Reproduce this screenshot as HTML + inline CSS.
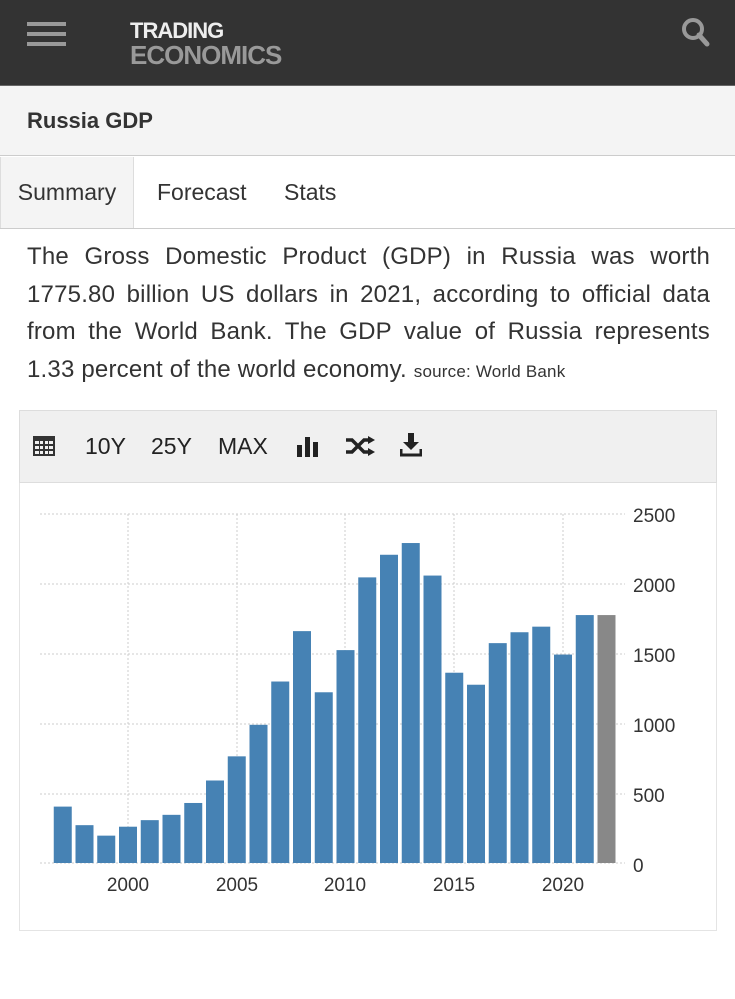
<!DOCTYPE html>
<html><head><meta charset="utf-8"><style>
*{margin:0;padding:0;box-sizing:border-box}
body{width:735px;height:999px;background:#fff;font-family:"Liberation Sans",sans-serif;position:relative;overflow:hidden;color:#333}
.top{position:absolute;left:0;top:0;width:735px;height:85px;background:#333}
.hb{position:absolute;left:27px;width:39px;height:4px;background:#999}
.logo{position:absolute;left:130px;font-weight:bold;letter-spacing:-1px}
.sub{position:absolute;left:0;top:85px;width:735px;height:71px;background:#f4f4f4;border-top:1px solid #666;border-bottom:1px solid #ccc}
.tabs{position:absolute;top:157px;left:0;width:735px;height:72px;border-bottom:1px solid #ccc}
.tab{position:absolute;top:0;height:71px;line-height:71px;font-size:23px;color:#333}
.p{position:absolute;left:27px;top:238px;width:683px;font-size:24px;line-height:37.5px;text-align:justify;color:#333;letter-spacing:0.2px}
.tb{position:absolute;left:19px;top:410px;width:698px;height:73px;background:#f0f0f0;border:1px solid #ddd}
.tbt{position:absolute;top:22px;font-size:23px;color:#222}
.ch{position:absolute;left:19px;top:483px;width:698px;height:448px;border:1px solid #e4e4e4;border-top:none}
</style></head><body>
<div class="top">
<div class="hb" style="top:22px"></div><div class="hb" style="top:32px"></div><div class="hb" style="top:42px"></div>
<div class="logo" style="top:18px;font-size:22px;color:#eee">TRADING</div>
<div class="logo" style="top:40px;font-size:26px;color:#999">ECONOMICS</div>
<svg style="position:absolute;left:680px;top:16px" width="32" height="32"><circle cx="13" cy="13" r="9" fill="none" stroke="#999" stroke-width="4"/><line x1="19" y1="19" x2="27" y2="28" stroke="#999" stroke-width="5" stroke-linecap="round"/></svg>
</div>
<div class="sub"><div style="position:absolute;left:27px;top:22px;font-size:22px;font-weight:bold;color:#333">Russia GDP</div></div>
<div class="tabs">
<div class="tab" style="left:0;width:134px;background:#f4f4f4;border-right:1px solid #ddd;border-left:1px solid #ddd;text-align:center">Summary</div>
<div class="tab" style="left:157px">Forecast</div>
<div class="tab" style="left:284px">Stats</div>
</div>
<div class="p">The Gross Domestic Product (GDP) in Russia was worth 1775.80 billion US dollars in 2021, according to official data from the World Bank. The GDP value of Russia represents 1.33 percent of the world economy. <span style="font-size:17px">source: World Bank</span></div>
<div class="tb">
<svg style="position:absolute;left:13px;top:23px" width="22" height="22"><rect x="0" y="2" width="22" height="20" fill="#333"/><g fill="#f0f0f0"><rect x="2" y="7" width="4" height="3"/><rect x="7" y="7" width="3" height="3"/><rect x="12" y="7" width="3" height="3"/><rect x="16" y="7" width="4" height="3"/><rect x="2" y="12" width="4" height="3"/><rect x="7" y="12" width="3" height="3"/><rect x="12" y="12" width="3" height="3"/><rect x="16" y="12" width="4" height="3"/><rect x="2" y="17" width="4" height="3"/><rect x="7" y="17" width="3" height="3"/><rect x="12" y="17" width="3" height="3"/><rect x="16" y="17" width="4" height="3"/></g></svg>
<div class="tbt" style="left:65px">10Y</div>
<div class="tbt" style="left:131px">25Y</div>
<div class="tbt" style="left:198px">MAX</div>
<svg style="position:absolute;left:277px;top:24px" width="24" height="22"><rect x="0" y="10" width="5" height="12" fill="#222"/><rect x="8" y="2" width="5" height="20" fill="#222"/><rect x="16" y="7" width="5" height="15" fill="#222"/></svg>
<svg style="position:absolute;left:326px;top:25px" width="30" height="20"><g fill="none" stroke="#222" stroke-width="3.5"><path d="M0 4h6l12 12h6"/><path d="M0 16h6l12-12h6"/></g><path d="M22 0l7 4-7 4zM22 12l7 4-7 4z" fill="#222"/></svg>
<svg style="position:absolute;left:380px;top:22px" width="22" height="24"><path d="M8 0h6v9h5l-8 8-8-8h5z" fill="#222"/><path d="M1 16v6h20v-6" fill="none" stroke="#222" stroke-width="3"/></svg>
</div>
<div class="ch"></div>
<svg style="position:absolute;left:0;top:0" width="735" height="999">
<g stroke="#ccc" stroke-dasharray="2,2" stroke-width="1">
<line x1="40" y1="514" x2="625" y2="514"/><line x1="40" y1="584" x2="625" y2="584"/><line x1="40" y1="654" x2="625" y2="654"/><line x1="40" y1="724" x2="625" y2="724"/><line x1="40" y1="794" x2="625" y2="794"/><line x1="40" y1="863" x2="625" y2="863"/>
<line x1="128" y1="514" x2="128" y2="863"/><line x1="237" y1="514" x2="237" y2="863"/><line x1="345" y1="514" x2="345" y2="863"/><line x1="454" y1="514" x2="454" y2="863"/><line x1="563" y1="514" x2="563" y2="863"/>
</g>
<g fill="#4682b4" id="bars"></g>
<g font-family="Liberation Sans" font-size="19" fill="#333">
<text x="633" y="522">2500</text><text x="633" y="592">2000</text><text x="633" y="662">1500</text><text x="633" y="732">1000</text><text x="633" y="802">500</text><text x="633" y="872">0</text>
<g text-anchor="middle"><text x="128" y="891">2000</text><text x="237" y="891">2005</text><text x="345" y="891">2010</text><text x="454" y="891">2015</text><text x="563" y="891">2020</text></g>
</g>
</svg>
<script>
var v=[404,271,196,260,307,345,430,591,764,990,1300,1661,1223,1525,2046,2208,2292,2059,1363,1277,1575,1653,1693,1493,1776,1776];
var g=document.getElementById('bars'),s='';
for(var i=0;i<v.length;i++){var c=62.75+i*21.75,h=v[i]*0.1396;
s+='<rect x="'+(c-9)+'" y="'+(863-h)+'" width="18" height="'+h+'"'+(i==25?' fill="#888"':'')+'/>';}
g.innerHTML=s;
</script>
</body></html>
